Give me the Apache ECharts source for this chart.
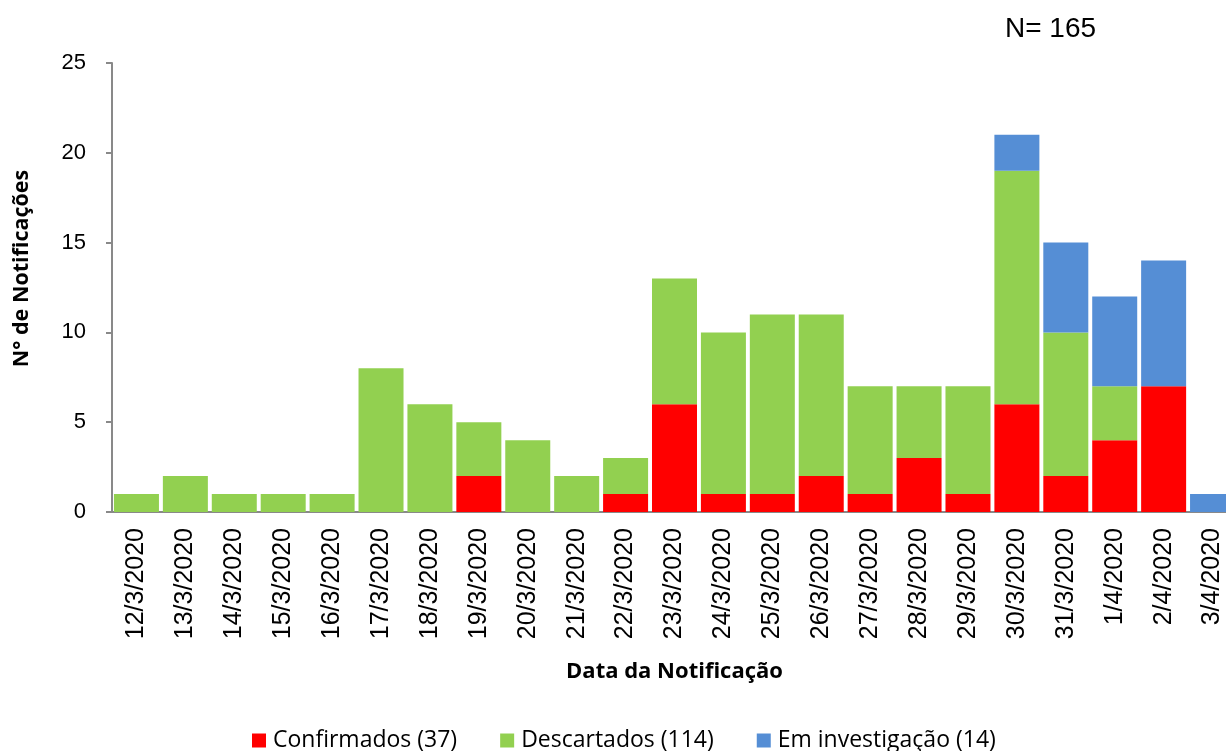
<!DOCTYPE html>
<html>
<head>
<meta charset="utf-8">
<script src="https://cdn.jsdelivr.net/npm/echarts@6/dist/echarts.min.js"></script>
<style>
html,body{margin:0;padding:0;background:#fff;}
#chart{width:1226px;height:751px;}
</style>
</head>
<body>
<div id="chart"></div>
<script>
const categories = ['12/3/2020','13/3/2020','14/3/2020','15/3/2020','16/3/2020','17/3/2020','18/3/2020','19/3/2020','20/3/2020','21/3/2020','22/3/2020','23/3/2020','24/3/2020','25/3/2020','26/3/2020','27/3/2020','28/3/2020','29/3/2020','30/3/2020','31/3/2020','1/4/2020','2/4/2020','3/4/2020'];
const confirmados = [0,0,0,0,0,0,0,2,0,0,1,6,1,1,2,1,3,1,6,2,4,7,0];
const descartados = [1,2,1,1,1,8,6,3,4,2,2,7,9,10,9,6,4,6,13,8,3,0,0];
const investigacao = [0,0,0,0,0,0,0,0,0,0,0,0,0,0,0,0,0,0,2,5,5,7,1];
const seriesNames = ['Confirmados (37)','Descartados (114)','Em investigação (14)'];
const yTicks = {min:0, max:25, interval:5};

const chart = echarts.init(document.getElementById('chart'));
const font = 'Liberation Sans, Arial, sans-serif';
const font2 = 'Open Sans, Noto Sans, sans-serif';
chart.setOption({
  animation:false,
  title:{text:'N= 165', left:1000, top:10, textStyle:{fontFamily:font, fontSize:28, fontWeight:'normal', color:'#000'}},
  legend:{
    bottom:-6, left:247, itemGap:43, itemWidth:14, itemHeight:14, icon:'rect',
    textStyle:{fontFamily:font2, fontSize:23, color:'#000', padding:[0,0,0,2]},
    data:seriesNames
  },
  grid:{left:112, top:63, width:1125, height:449, containLabel:false, outerBoundsMode:'none'},
  xAxis:{
    type:'category', data:categories,
    axisLine:{lineStyle:{color:'#898989', width:2}},
    axisTick:{show:false},
    axisLabel:{rotate:90, fontFamily:font, fontSize:25, color:'#000', margin:16, interval:0},
    name:'Data da Notificação', nameLocation:'middle', nameGap:149,
    nameTextStyle:{fontFamily:font2, fontSize:22, fontWeight:'bold', color:'#000'}
  },
  yAxis:{
    type:'value', min:yTicks.min, max:yTicks.max, interval:yTicks.interval,
    axisLine:{show:true, lineStyle:{color:'#898989', width:2}},
    axisTick:{show:true, length:6, lineStyle:{color:'#898989', width:2}},
    splitLine:{show:false},
    axisLabel:{fontFamily:font, fontSize:22, color:'#000', margin:26},
    name:'N° de Notificações', nameLocation:'middle', nameGap:79, nameRotate:90,
    nameTextStyle:{fontFamily:font2, fontSize:21.5, fontWeight:'bold', color:'#000', padding:[0,0,0,38]}
  },
  series:[
    {name:seriesNames[0], type:'bar', stack:'t', data:confirmados, barCategoryGap:'8%', itemStyle:{color:'#FF0000'}},
    {name:seriesNames[1], type:'bar', stack:'t', data:descartados, barCategoryGap:'8%', itemStyle:{color:'#92D050'}},
    {name:seriesNames[2], type:'bar', stack:'t', data:investigacao, barCategoryGap:'8%', itemStyle:{color:'#558ED5'}}
  ]
});
</script>
</body>
</html>
